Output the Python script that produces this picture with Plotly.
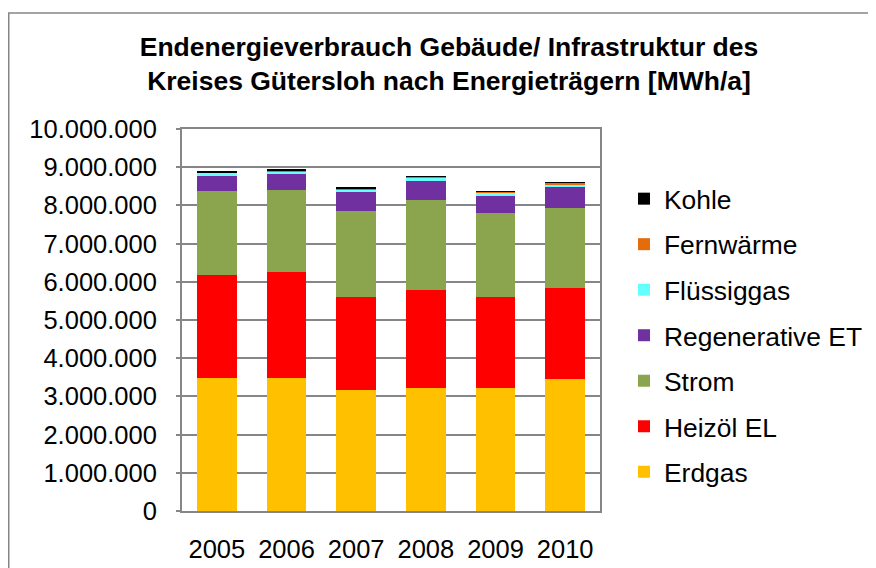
import plotly.graph_objects as go

years = ["2005", "2006", "2007", "2008", "2009", "2010"]
erdgas = [3470000, 3470000, 3160000, 3220000, 3220000, 3450000]
heizoel = [2710000, 2790000, 2430000, 2570000, 2390000, 2400000]
strom = [2190000, 2140000, 2260000, 2350000, 2190000, 2080000]
regenerativ = [410000, 415000, 490000, 510000, 450000, 550000]
fluessiggas = [70000, 70000, 78000, 70000, 85000, 78000]
fernwaerme = [20000, 30000, 30000, 30000, 25000, 30000]
kohle = [15000, 15000, 10000, 10000, 10000, 15000]

series = [
    ("Erdgas", erdgas, "#FFC000"),
    ("Heizöl EL", heizoel, "#FF0000"),
    ("Strom", strom, "#8BA54E"),
    ("Regenerative ET", regenerativ, "#7030A0"),
    ("Flüssiggas", fluessiggas, "#66FFFF"),
    ("Fernwärme", fernwaerme, "#E46C0A"),
    ("Kohle", kohle, "#000000"),
]

# page body has an 8px default margin; figure coordinates = screen - 8
OFF = 8
W, H = 876 - OFF, 568 - OFF
L, R, T, B = 182 - OFF, 600 - OFF, 128.7 - OFF, 511.5 - OFF

fig = go.Figure()
n = len(series)
for i, (name, vals, col) in enumerate(series):
    fig.add_trace(go.Bar(x=years, y=vals, name=name, marker_color=col,
                         marker_line_width=0, legendgroup=name,
                         legendrank=n - i))

def fx(p):  # figure pixel -> paper x
    return (p - L) / (R - L)

def fy(p):  # figure pixel -> paper y
    return (B - p) / (B - T)

tick_vals = [i * 1000000 for i in range(11)]
tick_text = ["0"] + ["{:,}".format(v).replace(",", ".") for v in tick_vals[1:]]

fig.update_layout(
    width=W, height=H,
    margin=dict(l=L, r=W - R, t=T, b=H - B, pad=0, autoexpand=False),
    paper_bgcolor="white", plot_bgcolor="white",
    barmode="stack", bargap=0.43,
    font=dict(family="Liberation Sans, Arial, sans-serif", size=25, color="black"),
    title=dict(
        text="<b>Endenergieverbrauch Gebäude/ Infrastruktur des<br>Kreises Gütersloh nach Energieträgern [MWh/a]</b>",
        x=(449 - OFF) / W, xanchor="center", xref="container",
        y=1 - (56 - OFF) / H, yanchor="top", yref="container",
        font=dict(size=26.5, family="Liberation Sans, Arial, sans-serif", color="black"),
    ),
    xaxis=dict(
        showgrid=False, showline=True, linecolor="#868686", linewidth=2, mirror=True,
        ticks="", tickfont=dict(size=25.5), ticklabelstandoff=14,
    ),
    yaxis=dict(
        range=[0, 10000000], tickvals=tick_vals, ticktext=tick_text,
        showgrid=True, gridcolor="#868686", gridwidth=1.5,
        showline=True, linecolor="#868686", linewidth=2, mirror=True,
        ticks="outside", ticklen=4, tickcolor="#868686", tickwidth=1.5,
        tickfont=dict(size=25.5), ticklabelstandoff=14, zeroline=False,
    ),
    legend=dict(
        traceorder="grouped", tracegroupgap=8.2,
        xref="container", yref="container",
        x=(624 - OFF) / W, xanchor="left", y=1 - (175 - OFF) / H, yanchor="top",
        font=dict(size=26.4), bgcolor="rgba(0,0,0,0)", maxheight=500,
    ),
    showlegend=True,
)

fig.add_shape(type="rect", xref="paper", yref="paper",
              x0=fx(0.75), x1=fx(900), y0=fy(12.5 - OFF), y1=fy(600),
              line=dict(color="#868686", width=1.5), fillcolor="rgba(0,0,0,0)", layer="above")

fig.write_html("out.html")
